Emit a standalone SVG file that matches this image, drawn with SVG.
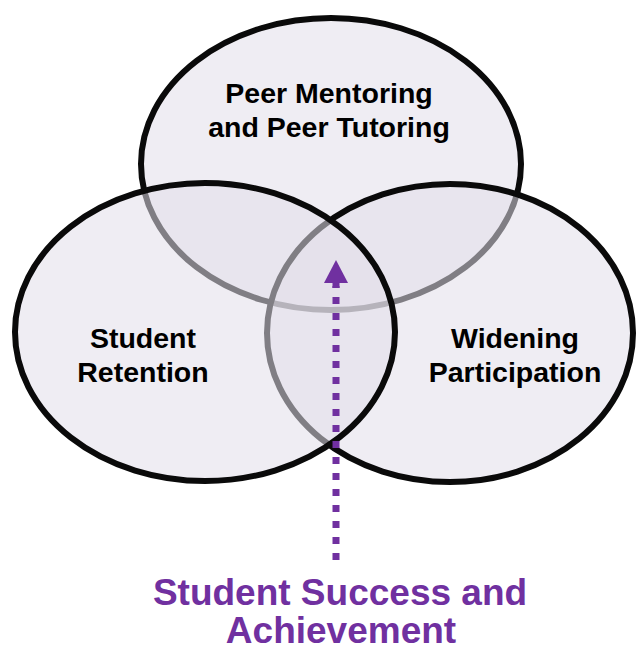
<svg xmlns="http://www.w3.org/2000/svg" width="636" height="650" viewBox="0 0 636 650">
  <style>
    .set { fill: #e2dee9; fill-opacity: 0.55; stroke: #0a0a0a; stroke-width: 6; }
    .lbl { font-family: "Liberation Sans", Arial, sans-serif; font-weight: bold; font-size: 28.5px; fill: #000; text-anchor: middle; }
    .out { font-family: "Liberation Sans", Arial, sans-serif; font-weight: bold; font-size: 37px; fill: #7030a0; text-anchor: middle; }
    .dots { fill: none; stroke: #7030a0; stroke-width: 7; stroke-dasharray: 7 9; }
  </style>
  <rect width="636" height="650" fill="#ffffff"/>
  <g id="node-peer-mentoring">
    <ellipse class="set" cx="331" cy="164" rx="190" ry="146"/>
  </g>
  <g id="node-widening-participation">
    <ellipse class="set" cx="450" cy="333" rx="183" ry="149"/>
  </g>
  <g id="node-student-retention">
    <ellipse class="set" cx="205" cy="332" rx="190" ry="149"/>
  </g>
  <g id="labels">
    <text class="lbl" x="329" y="103">Peer Mentoring</text>
    <text class="lbl" x="329" y="137">and Peer Tutoring</text>
    <text class="lbl" x="143" y="348">Student</text>
    <text class="lbl" x="143" y="382">Retention</text>
    <text class="lbl" x="515" y="348">Widening</text>
    <text class="lbl" x="515" y="382">Participation</text>
  </g>
  <g id="connectors">
    <path class="dots" d="M336,560 V286"/>
    <rect x="332.5" y="282" width="7" height="6" fill="#7030a0"/>
    <polygon points="336,260 324,283 348,283" fill="#7030a0"/>
  </g>
  <g id="node-student-success">
    <text class="out" x="340" y="605">Student Success and</text>
    <text class="out" x="341" y="643">Achievement</text>
  </g>
</svg>
